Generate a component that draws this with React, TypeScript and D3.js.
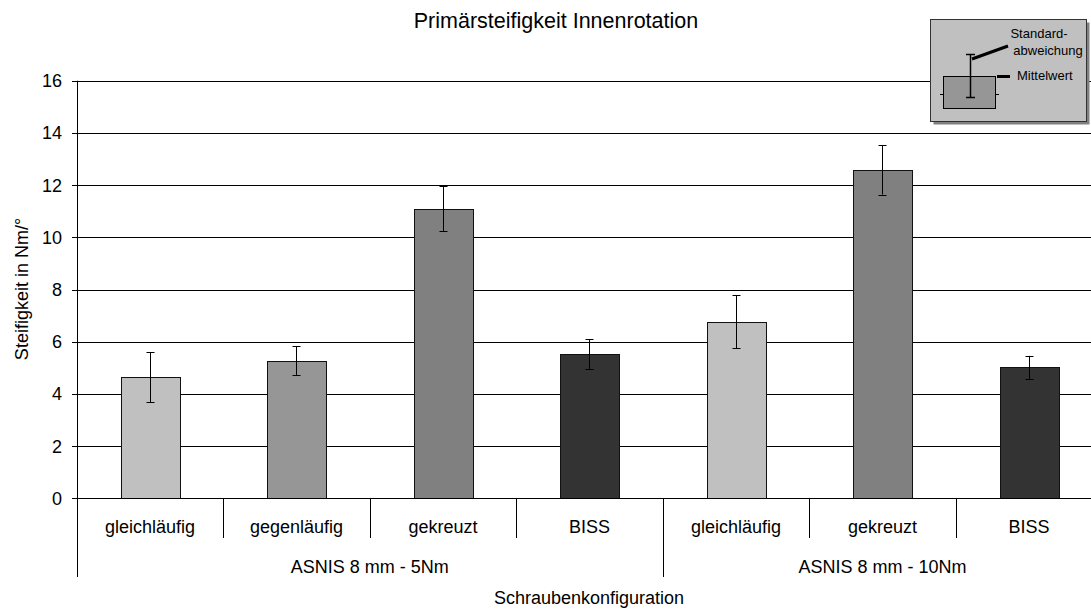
import React from 'react';
import * as d3 from 'd3';

// chart data
const categories = ['gleichläufig', 'gegenläufig', 'gekreuzt', 'BISS', 'gleichläufig', 'gekreuzt', 'BISS'];
const groupNames = ['ASNIS 8 mm - 5Nm', 'ASNIS 8 mm - 10Nm'];
const groupSizes = [4, 3];
const means = [4.64, 5.28, 11.1, 5.53, 6.77, 12.58, 5.02];
const stdDevs = [0.95, 0.55, 0.86, 0.57, 1.01, 0.94, 0.44];
const yTicks = [0, 2, 4, 6, 8, 10, 12, 14, 16];

const fills: Record<string, string> = {
  'gleichläufig': '#c0c0c0',
  'gegenläufig': '#969696',
  'gekreuzt': '#808080',
  'BISS': '#333333'
};

const width = 1091;
const height = 610;
const font = "'Liberation Sans', Arial, sans-serif";

const left = 76.7;
const step = 146.5;

export default function App() {
  const x = d3.scaleBand<number>()
    .domain(d3.range(categories.length))
    .range([left, left + step * categories.length])
    .padding(0);
  const y = d3.scaleLinear().domain([0, 16]).range([498.4, 80.7]);

  const bw = x.bandwidth() / 2.5;
  const px = (v: number) => Math.round(v) + 0.5;
  const y0 = px(y(0));
  const axisX = px(left);

  // group boundaries
  let acc = 0;
  const groups = groupNames.map((name, i) => {
    const start = acc;
    acc += groupSizes[i];
    return { name, start, end: acc };
  });

  return (
    <svg width={width} height={height} style={{ position: 'absolute', left: 0, top: 0, background: '#fff' }}
      fontFamily={font}>
      <text x={556} y={28} fontSize={21.5} textAnchor="middle" fill="#000">Primärsteifigkeit Innenrotation</text>

      {/* gridlines and y ticks */}
      {yTicks.map(t => (
        <g key={t}>
          <line x1={72} x2={width} y1={px(y(t))} y2={px(y(t))} stroke="#000" strokeWidth={1} />
          <text x={62} y={y(t) + 6.5} fontSize={18} textAnchor="end" fill="#000">{t}</text>
        </g>
      ))}

      {/* bars */}
      {means.map((m, i) => {
        const cx = x(i)! + x.bandwidth() / 2;
        return (
          <g key={i}>
            <rect x={Math.round(cx - bw / 2) + 0.5} y={px(y(m))} width={Math.round(bw)} height={y0 - px(y(m))}
              fill={fills[categories[i]]} stroke="#111" strokeWidth={1} />
            <line x1={px(cx)} x2={px(cx)} y1={y(m + stdDevs[i])} y2={y(m - stdDevs[i])} stroke="#000" />
            <line x1={px(cx) - 4} x2={px(cx) + 4} y1={px(y(m + stdDevs[i]))} y2={px(y(m + stdDevs[i]))} stroke="#000" />
            <line x1={px(cx) - 4} x2={px(cx) + 4} y1={px(y(m - stdDevs[i]))} y2={px(y(m - stdDevs[i]))} stroke="#000" />
          </g>
        );
      })}

      {/* axes */}
      <line x1={axisX} x2={axisX} y1={y(16)} y2={577} stroke="#000" />
      <line x1={axisX} x2={width} y1={y0} y2={y0} stroke="#000" />

      {/* category labels and dividers */}
      {categories.map((c, i) => (
        <g key={i}>
          {i > 0 && <line x1={px(x(i)!)} x2={px(x(i)!)} y1={y0} y2={538} stroke="#000" />}
          <text x={x(i)! + x.bandwidth() / 2} y={533} fontSize={18} textAnchor="middle" fill="#000">{c}</text>
        </g>
      ))}

      {/* group labels */}
      {groups.map((g, i) => {
        const x1 = x(g.start)!;
        const x2 = g.end < categories.length ? x(g.end)! : left + step * categories.length;
        return (
          <g key={i}>
            {i > 0 && <line x1={px(x1)} x2={px(x1)} y1={y0} y2={577} stroke="#000" />}
            <text x={(x1 + x2) / 2} y={573} fontSize={18} textAnchor="middle" fill="#000">{g.name}</text>
          </g>
        );
      })}

      <text x={589} y={604} fontSize={18} textAnchor="middle" fill="#000">Schraubenkonfiguration</text>
      <text transform="translate(28,289) rotate(-90)" fontSize={18} textAnchor="middle" fill="#000">Steifigkeit in Nm/°</text>

      {/* legend box */}
      <g>
        <rect x={933.5} y={22.5} width={156} height={102} fill="#808080" />
        <rect x={930.5} y={19.5} width={156} height={102} fill="#c0c0c0" stroke="#333" />
        <rect x={943.5} y={76.5} width={52} height={32} fill="#969696" stroke="#000" />
        <line x1={940} x2={944} y1={94.5} y2={94.5} stroke="#000" />
        <line x1={995} x2={999} y1={94.5} y2={94.5} stroke="#000" />
        <line x1={970.5} x2={970.5} y1={54} y2={98} stroke="#000" strokeWidth={1.5} />
        <line x1={966} x2={975} y1={54.5} y2={54.5} stroke="#000" strokeWidth={1.5} />
        <line x1={966} x2={975} y1={97.5} y2={97.5} stroke="#000" strokeWidth={1.5} />
        <line x1={972} x2={1008} y1={59} y2={46} stroke="#000" strokeWidth={3} />
        <line x1={997} x2={1010} y1={76.5} y2={76.5} stroke="#000" strokeWidth={3} />
        <text x={1039} y={38} fontSize={13} textAnchor="middle" fill="#000">Standard-</text>
        <text x={1048} y={55} fontSize={13} textAnchor="middle" fill="#000">abweichung</text>
        <text x={1017} y={80} fontSize={13} fill="#000">Mittelwert</text>
      </g>
    </svg>
  );
}
